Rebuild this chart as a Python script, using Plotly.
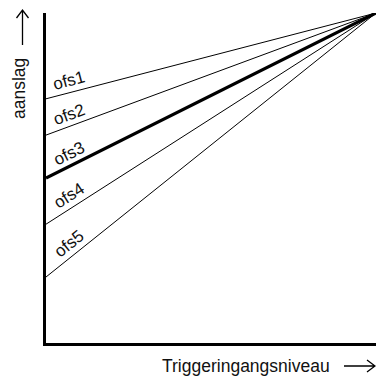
import math
import plotly.graph_objects as go

# offset curves: level at zero input, all meet at full scale
labels = ["ofs1", "ofs2", "ofs3", "ofs4", "ofs5"]
intercepts = [0.74, 0.63, 0.50, 0.36, 0.20]
end_x = [0, 1]
end_y = 1.0

W, H = 376, 379
L, T, B = 46, 13, 36
PW, PH = W - L, H - T - B


def px(x):
    return (x - L) / PW


def py(y):
    return (H - B - y) / PH


fig = go.Figure()
for name, b in zip(labels, intercepts):
    fig.add_trace(go.Scatter(
        x=end_x, y=[b, end_y], mode="lines",
        line=dict(color="black", width=3.2 if name == "ofs3" else 1),
        cliponaxis=False, showlegend=False, hoverinfo="skip"))
    # label sitting just above the line near the y axis, rotated along it
    slope = end_y - b
    ang = math.atan(slope)
    cx = 0.071
    cy = b + slope * cx + 0.035 / math.cos(ang)
    fig.add_annotation(x=cx, y=cy, text=name, showarrow=False,
                       textangle=-math.degrees(ang),
                       xanchor="center", yanchor="middle",
                       font=dict(size=17, color="#111"))

fig.add_annotation(xref="paper", yref="paper", x=px(246), y=py(366),
                   text="Triggeringangsniveau", showarrow=False,
                   xanchor="center", yanchor="middle",
                   font=dict(size=17.5, color="#111"))
fig.add_annotation(xref="paper", yref="paper", x=px(19), y=py(89),
                   text="aanslag", showarrow=False, textangle=-90,
                   xanchor="center", yanchor="middle",
                   font=dict(size=17.5, color="#111"))

# hand-drawn style arrows next to the axis titles
arrow = dict(type="path", xref="paper", yref="paper",
             line=dict(color="black", width=1.3))
fig.add_shape(arrow, path=(f"M{px(344)},{py(366)} L{px(375)},{py(366)} "
                           f"M{px(367)},{py(360)} L{px(375)},{py(366)} L{px(367)},{py(372)}"))
fig.add_shape(arrow, path=(f"M{px(22.5)},{py(45)} L{px(22.5)},{py(10)} "
                           f"M{px(16.5)},{py(18)} L{px(22.5)},{py(10)} L{px(28.5)},{py(18)}"))

ax = dict(range=[0, 1], showgrid=False, zeroline=False, showticklabels=False,
          ticks="", showline=True, linecolor="black", linewidth=2.5)
fig.update_layout(
    width=W, height=H,
    margin=dict(l=L, r=0, t=T, b=B),
    plot_bgcolor="white", paper_bgcolor="white",
    font=dict(family="Liberation Sans, Arial, sans-serif", color="black"),
    xaxis=ax, yaxis=ax,
)
fig.write_html("out.html", config={"displayModeBar": False},
               post_script="document.body.style.margin='0';")
